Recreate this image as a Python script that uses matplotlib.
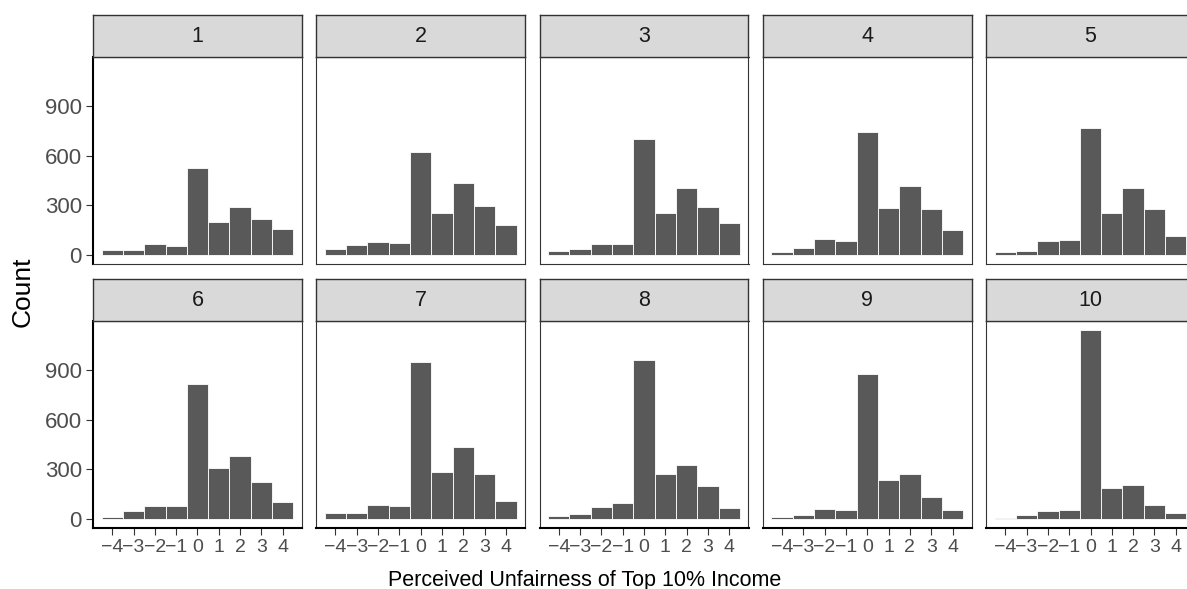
import matplotlib
matplotlib.use("Agg")
import matplotlib.pyplot as plt

plt.rcParams['font.family'] = ['Liberation Sans', 'DejaVu Sans']

# response scale shared by every panel
scores = [-4, -3, -2, -1, 0, 1, 2, 3, 4]
score_labels = ['\u22124', '\u22123', '\u22122', '\u22121', '0', '1', '2', '3', '4']
panel_names = ['1', '2', '3', '4', '5', '6', '7', '8', '9', '10']
y_ticks = [0, 300, 600, 900]

# counts per score, one list per decile panel
counts_1 = [32, 32, 68, 52, 524, 196, 290, 218, 158]
counts_2 = [38, 62, 80, 74, 620, 254, 434, 296, 182]
counts_3 = [26, 38, 68, 68, 698, 254, 404, 290, 194]
counts_4 = [20, 44, 98, 86, 740, 284, 416, 278, 152]
counts_5 = [20, 26, 86, 92, 764, 254, 404, 278, 116]
counts_6 = [10, 46, 76, 76, 814, 310, 382, 220, 100]
counts_7 = [34, 34, 82, 76, 946, 286, 436, 268, 106]
counts_8 = [16, 28, 70, 94, 958, 274, 328, 196, 64]
counts_9 = [10, 22, 58, 52, 874, 232, 274, 130, 52]
counts_10 = [4, 22, 46, 52, 1138, 184, 202, 82, 34]

all_counts = [counts_1, counts_2, counts_3, counts_4, counts_5,
              counts_6, counts_7, counts_8, counts_9, counts_10]

W, H = 1187, 589
fig = plt.figure(figsize=(W / 100, H / 100), dpi=100)
fig.patch.set_facecolor('white')

col_left = [93 + 223.25 * i for i in range(5)]
row_top = [57, 321]
panel_w = 209
panel_h = 207.3
strip_h = 42


def px_axes(x, y_top, w, h):
    return fig.add_axes([x / W, 1 - (y_top + h) / H, w / W, h / H])


ymax = max(max(c) for c in all_counts)
ylim = (-0.05 * ymax, 1.05 * ymax)

for i, (name, counts) in enumerate(zip(panel_names, all_counts)):
    r, c = divmod(i, 5)
    x0, y0 = col_left[c], row_top[r]

    ax = px_axes(x0, y0, panel_w, panel_h)
    ax.bar(scores, counts, width=1, color='#595959', edgecolor='white', linewidth=0.6)
    ax.set_xlim(-4.9, 4.9)
    ax.set_ylim(*ylim)
    ax.set_xticks(scores)
    ax.set_xticklabels(score_labels)
    ax.set_yticks(y_ticks)
    ax.tick_params(length=5, width=0.8, color='#333333', labelcolor='#4D4D4D', pad=3)
    ax.tick_params(axis='y', labelsize=16)
    ax.tick_params(axis='x', labelsize=14)
    for s in ax.spines.values():
        s.set_color('#333333')
        s.set_linewidth(0.8)
    if c == 0:
        ax.spines['left'].set_color('black')
        ax.spines['left'].set_linewidth(1.5)
    else:
        ax.tick_params(left=False, labelleft=False)
    if r == 1:
        ax.spines['bottom'].set_color('black')
        ax.spines['bottom'].set_linewidth(1.5)
    else:
        ax.tick_params(bottom=False, labelbottom=False)

    # facet strip
    st = px_axes(x0, y0 - strip_h, panel_w, strip_h)
    st.set_facecolor('#D9D9D9')
    st.set_xticks([])
    st.set_yticks([])
    for s in st.spines.values():
        s.set_color('#333333')
        s.set_linewidth(1.0)
    st.text(0.5, 0.5, name, transform=st.transAxes, ha='center', va='center',
            size=15.5, color='#1A1A1A')

fig.text(23 / W, 1 - 292 / H, 'Count', rotation=90, ha='center', va='center',
         size=19, color='black')
fig.text(585 / W, 1 - 586 / H, 'Perceived Unfairness of Top 10% Income',
         ha='center', va='baseline', size=15.5, color='black')

fig.savefig('out.png', dpi=100)
